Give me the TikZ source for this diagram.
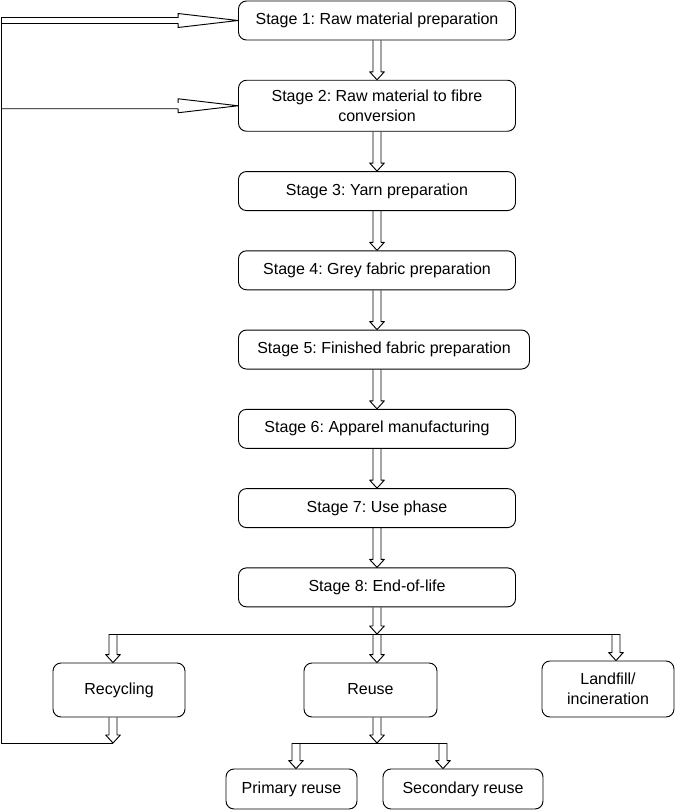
\documentclass[tikz,border=0pt]{standalone}
\usepackage{fontspec}
\setmainfont{Liberation Sans}
\frenchspacing
\usepackage{tikz}
\usetikzlibrary{positioning,calc}

% hollow block arrows: #1 = start (gives x), #2 = tip (gives y)
\newcommand{\blkdown}[2]{%
  \draw[blk] let \p1=(#1), \p2=(#2) in
    (\x1-3pt,\y1) -- (\x1-3pt,\y2+6pt) -- (\x1-5.5pt,\y2+6pt) -- (\x1,\y2)
    -- (\x1+5.5pt,\y2+6pt) -- (\x1+3pt,\y2+6pt) -- (\x1+3pt,\y1);}
\newcommand{\blkright}[2]{%
  \draw[blk] let \p1=(#1), \p2=(#2) in
    (\x1,\y2+2.25pt) -- (\x2-45pt,\y2+2.25pt) -- (\x2-45pt,\y2+5.25pt) -- (\x2,\y2)
    -- (\x2-45pt,\y2-5.25pt) -- (\x2-45pt,\y2-2.25pt) -- (\x1,\y2-2.25pt);}

\begin{document}
\begin{tikzpicture}[
    x=0.75pt, y=-0.75pt,
    node distance=29.5pt,
    box/.style={draw, line width=0.7pt, rounded corners=6pt, inner sep=0pt, align=center, font=\fontsize{12}{15}\selectfont},
    oneline/.style={text height=8.6pt, text depth=2.5pt},
    stage/.style={box, oneline, minimum width=207.75pt, minimum height=29.25pt},
    blk/.style={draw, line width=0.7pt, line join=round}
]
\useasboundingbox (0,0) rectangle (675,810);

\node[stage] (s1) at (377,20.5) {Stage 1: Raw material preparation};
\node[box, minimum width=207.75pt, minimum height=38.25pt, below=of s1] (s2) {Stage 2: Raw material to fibre\\conversion};
\node[stage, below=of s2] (s3) {Stage 3: Yarn preparation};
\node[stage, below=of s3] (s4) {Stage 4: Grey fabric preparation};
\node[stage, minimum width=218.25pt, below=of s4.south west, anchor=north west] (s5) {Stage 5: Finished fabric preparation};
\node[stage, below=of s5.south west, anchor=north west] (s6) {Stage 6: Apparel manufacturing};
\node[stage, below=of s6] (s7) {Stage 7: Use phase};
\node[stage, below=of s7] (s8) {Stage 8: End-of-life};

\coordinate (br) at (377,634);
\coordinate (brl) at (113,634);
\coordinate (brr) at (616,634);
\node[box, oneline, minimum width=99pt, minimum height=40.5pt] (rec) at (119,690) {Recycling};
\node[box, oneline, minimum width=99.75pt, minimum height=40.5pt] (reuse) at (370.5,690) {Reuse};
\node[box, minimum width=99pt, minimum height=42pt] (land) at (608,689) {Landfill/\\incineration};

\coordinate (br2) at (377,743);
\coordinate (br2l) at (296,743);
\coordinate (br2r) at (443,743);
\node[box, oneline, minimum width=98.25pt, minimum height=30pt] (prim) at (291.5,789) {Primary reuse};
\node[box, oneline, minimum width=120pt, minimum height=30pt] (sec) at (463,789) {Secondary reuse};

\coordinate (fbb) at (113,743);
\coordinate (fbt) at (1,17.5);

% main chain
\blkdown{s1.south}{s2.north}
\blkdown{s2.south}{s3.north}
\blkdown{s3.south}{s4.north}
\blkdown{s4.south}{s5.north}
\blkdown{s5.south -| s4.south}{s6.north}
\blkdown{s6.south}{s7.north}
\blkdown{s7.south}{s8.north}
\blkdown{s8.south}{br}

% end-of-life branches
\draw[blk] ([xshift=-3pt]brl) -- ([xshift=3pt]brr);
\blkdown{brl}{rec.north}
\blkdown{br}{reuse.north}
\blkdown{brr}{land.north}
\blkdown{reuse.south -| br}{br2}
\draw[blk] ([xshift=-3pt]br2l) -- ([xshift=3pt]br2r);
\blkdown{br2l}{prim.north}
\blkdown{br2r}{sec.north}

% recycling loop back
\blkdown{rec.south -| brl}{fbb}
\draw[blk] (fbb) -- (fbb -| fbt) -- (fbt);
\blkright{fbt}{s1.west}
\draw[blk] let \p1=(fbt), \p2=(s2.west) in
    (\x1,\y2-2.25pt) -- (\x2-45pt,\y2-2.25pt) -- (\x2-45pt,\y2-5.25pt) -- (\x2,\y2)
    -- (\x2-45pt,\y2+5.25pt) -- (\x2-45pt,\y2+2.25pt);
\end{tikzpicture}
\end{document}
